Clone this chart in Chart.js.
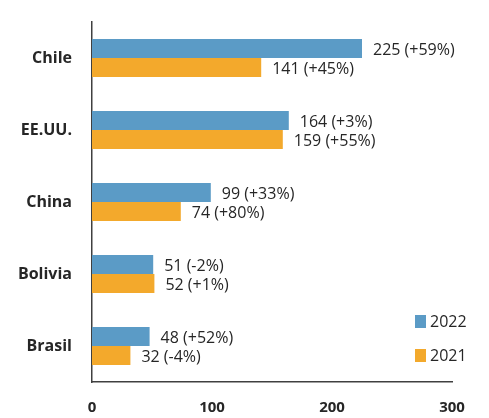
<!DOCTYPE html>
<html>
<head>
<meta charset="utf-8">
<script src="https://cdn.jsdelivr.net/npm/chart.js@4.4.0/dist/chart.umd.min.js"></script>
<style>
  html, body { margin: 0; padding: 0; background: #fff; }
  canvas { display: block; }
</style>
</head>
<body>
<canvas id="chart" width="489" height="418"></canvas>
<script>
// datos del gráfico
const paises = ['Chile', 'EE.UU.', 'China', 'Bolivia', 'Brasil'];
const valores2022 = [225, 164, 99, 51, 48];
const valores2021 = [141, 159, 74, 52, 32];
const variacion2022 = ['+59%', '+3%', '+33%', '-2%', '+52%'];
const variacion2021 = ['+45%', '+55%', '+80%', '+1%', '-4%'];
const ticksX = [0, 100, 200, 300];

const AZUL = '#5B9BC6';
const NARANJA = '#F3A92C';
const TEXTO = '#262626';
const FUENTE = '"Open Sans", "Noto Sans", sans-serif';

// etiquetas de valor al final de cada barra
const etiquetas = {
    id: 'etiquetas',
    afterDatasetsDraw(chart) {
        const ctx = chart.ctx;
        ctx.save();
        ctx.font = '16px ' + FUENTE;
        ctx.fillStyle = TEXTO;
        ctx.textBaseline = 'middle';
        ctx.textAlign = 'left';
        chart.data.datasets.forEach((ds, i) => {
            chart.getDatasetMeta(i).data.forEach((bar, j) => {
                ctx.fillText(ds.data[j] + ' (' + ds.variacion[j] + ')', bar.x + 11, bar.y + 2);
            });
        });
        ctx.restore();
    }
};

// leyenda dentro del área del gráfico, abajo a la derecha
const leyenda = {
    id: 'leyenda',
    afterDraw(chart) {
        const { ctx, chartArea } = chart;
        const x = chartArea.right - 37;
        let y = chartArea.bottom - 67;
        ctx.save();
        ctx.font = '16px ' + FUENTE;
        ctx.textBaseline = 'middle';
        chart.data.datasets.forEach(ds => {
            ctx.fillStyle = ds.backgroundColor;
            ctx.fillRect(x, y, 11, 13);
            ctx.fillStyle = TEXTO;
            ctx.fillText(ds.label, x + 15, y + 7);
            y += 34;
        });
        ctx.restore();
    }
};

new Chart(document.getElementById('chart'), {
    type: 'bar',
    data: {
        labels: paises,
        datasets: [
            { label: '2022', data: valores2022, variacion: variacion2022, backgroundColor: AZUL },
            { label: '2021', data: valores2021, variacion: variacion2021, backgroundColor: NARANJA }
        ]
    },
    options: {
        indexAxis: 'y',
        responsive: false,
        animation: false,
        layout: { autoPadding: false, padding: { top: 22, right: 37, left: 0, bottom: 0 } },
        categoryPercentage: 0.53,
        barPercentage: 1,
        plugins: {
            legend: { display: false },
            tooltip: { enabled: false }
        },
        scales: {
            x: {
                min: 0,
                max: 300,
                afterBuildTicks: scale => { scale.ticks = ticksX.map(v => ({ value: v })); },
                afterFit: scale => { scale.height = 36; },
                grid: { display: false },
                border: { display: true, color: '#404040', width: 1.5 },
                ticks: {
                    padding: 9,
                    color: TEXTO,
                    font: { family: FUENTE, size: 15, weight: 'bold' }
                }
            },
            y: {
                afterFit: scale => { scale.width = 92; },
                grid: { display: false },
                border: { display: true, color: '#404040', width: 1.5 },
                ticks: {
                    padding: 12,
                    color: TEXTO,
                    font: { family: FUENTE, size: 16, weight: 'bold' }
                }
            }
        }
    },
    plugins: [etiquetas, leyenda]
});
</script>
</body>
</html>
